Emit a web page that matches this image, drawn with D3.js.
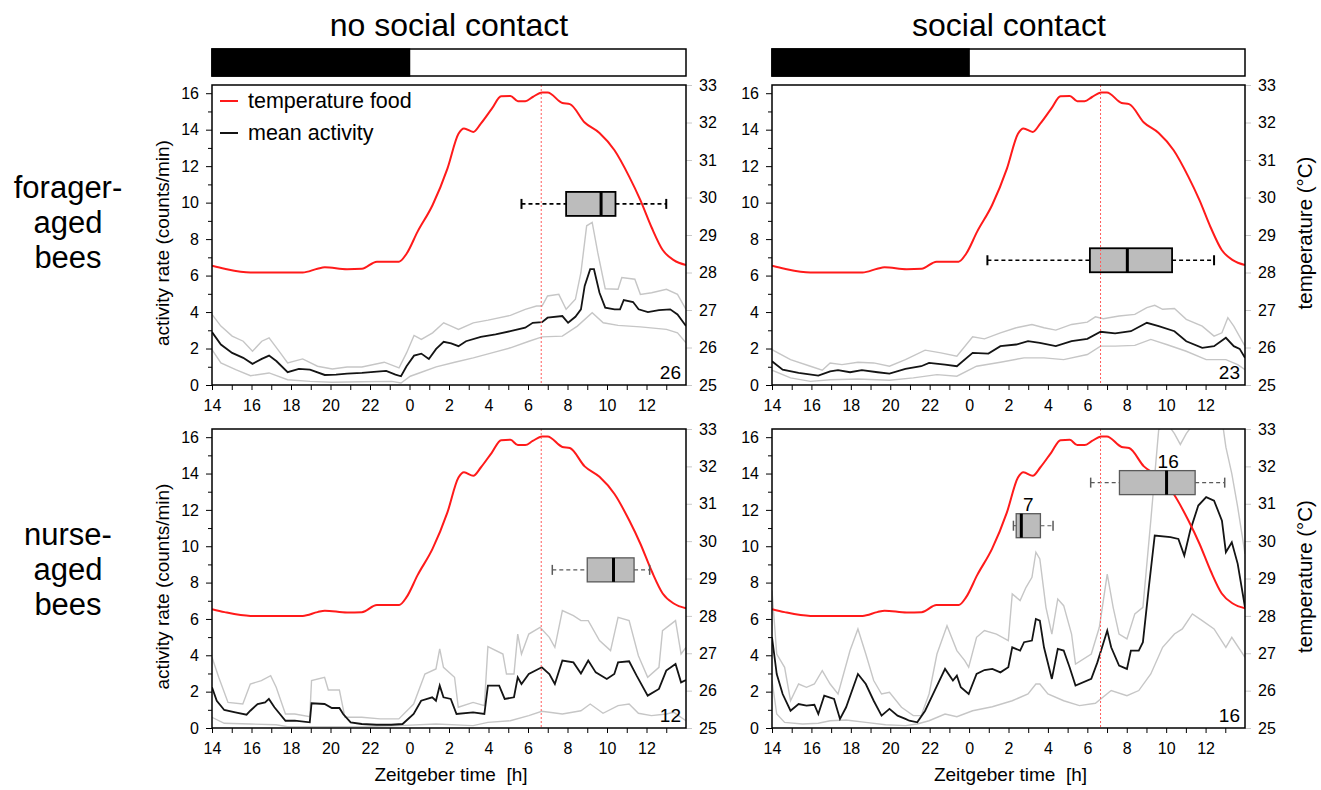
<!DOCTYPE html>
<html>
<head>
<meta charset="utf-8">
<script src="https://cdn.jsdelivr.net/npm/d3@7"></script>
<style>
body { margin: 0; background: #fff; }
text { font-family: "Liberation Sans", Arial, sans-serif; fill: #000; }
</style>
</head>
<body>
<script>
// time is stored as hours after ZT14 (0 .. 24), labels show Zeitgeber time
var hourTicks = d3.range(0, 24);
var activityTicks = [0, 2, 4, 6, 8, 10, 12, 14, 16];
var tempTicks = [25, 26, 27, 28, 29, 30, 31, 32, 33];
var colTitles = ["no social contact", "social contact"];
var rowTitles = [["forager-", "aged", "bees"], ["nurse-", "aged", "bees"]];
var sampleSizes = ["26", "23", "12", "16"];
var darkPhase = [0, 10];
var tempPeak = 16.67;

// temperature food (°C), same for every panel
var tempFood = [[0,28.18],[0.64,28.1],[1.95,28.0],[4.59,28.0],[5.34,28.1],[5.71,28.14],[6.84,28.09],
  [7.59,28.1],[8.35,28.29],[9.47,28.29],[9.85,28.5],[10.41,29.09],[11.17,29.8],[11.92,30.77],
  [12.48,31.7],[12.76,31.84],[13.23,31.75],[13.61,31.97],[14.17,32.37],[14.64,32.7],[15.11,32.71],
  [15.49,32.57],[15.86,32.57],[16.24,32.68],[16.71,32.8],[16.99,32.8],[17.74,32.52],[18.12,32.49],
  [18.87,32.0],[19.62,31.72],[20.38,31.26],[21.13,30.55],[21.69,29.93],[22.26,29.2],[22.82,28.6],
  [23.38,28.33],[24,28.2]];

// forager-aged, no social contact
var fnMean = [[0,2.9],[0.45,2.22],[1.02,1.76],[1.58,1.49],[2.05,1.16],[2.52,1.43],[2.89,1.61],[3.27,1.3],
  [3.83,0.7],[4.4,0.88],[4.96,0.84],[5.71,0.55],[6.28,0.57],[6.84,0.62],[7.59,0.66],[8.35,0.73],
  [8.82,0.77],[9.29,0.57],[9.57,0.48],[9.85,1.03],[10.23,1.61],[10.6,1.72],[10.98,1.43],[11.35,1.98],
  [11.73,2.37],[12.11,2.28],[12.48,2.13],[12.86,2.4],[13.61,2.64],[14.36,2.77],[15.11,2.95],[15.86,3.14],
  [16.24,3.41],[16.71,3.45],[16.99,3.69],[17.74,3.78],[18.03,3.41],[18.4,3.74],[18.68,4.15],[18.87,5.43],
  [19.15,6.35],[19.34,6.35],[19.62,5.06],[19.91,4.24],[20.38,4.15],[20.66,4.15],[20.85,4.66],[21.32,4.55],
  [21.6,4.15],[22.07,4.0],[22.63,4.11],[23.2,4.15],[23.57,3.87],[24,3.23]];
var fnUpper = [[0,3.87],[0.45,3.23],[1.02,2.68],[1.58,2.4],[2.05,1.85],[2.52,2.4],[2.89,2.59],[3.46,1.76],
  [3.83,1.21],[4.59,1.43],[5.34,1.03],[6.09,0.88],[6.84,0.99],[7.59,0.99],[8.72,1.25],[9.47,0.94],
  [9.85,1.76],[10.23,2.72],[10.6,2.5],[11.17,2.86],[11.73,3.41],[12.11,3.23],[12.48,3.05],[13.23,3.41],
  [13.98,3.56],[15.11,3.82],[15.86,4.15],[16.43,4.33],[16.71,4.33],[16.99,4.88],[17.56,4.97],[17.93,4.15],
  [18.4,4.7],[18.68,6.17],[18.97,8.73],[19.25,8.92],[19.53,7.27],[19.91,5.28],[20.56,5.25],[20.75,5.89],
  [21.41,5.8],[21.69,4.97],[22.26,5.06],[23.01,5.25],[23.57,4.97],[24,4.15]];
var fnLower = [[0,1.94],[0.45,1.21],[1.2,0.84],[1.95,0.51],[2.89,0.66],[3.83,0.29],[4.96,0.2],[6.09,0.15],
  [7.59,0.18],[9.1,0.2],[9.57,0.11],[10.04,0.48],[10.6,0.7],[11.35,0.99],[12.29,1.25],[13.23,1.49],
  [14.17,1.76],[15.11,2.04],[16.05,2.4],[16.71,2.64],[17.74,2.68],[18.5,3.23],[19.25,3.96],[19.81,3.41],
  [20.56,3.27],[21.69,3.19],[23.01,3.05],[23.57,2.86],[24,2.31]];

// forager-aged, social contact
var fsMean = [[0,1.3],[0.54,0.84],[1.35,0.66],[2.35,0.51],[2.95,0.75],[3.35,0.81],[3.96,0.7],[4.56,0.81],
  [5.36,0.7],[5.96,0.62],[6.77,0.88],[7.57,1.03],[7.97,1.21],[8.78,1.12],[9.38,1.03],[10.18,1.76],
  [10.98,1.72],[11.59,2.13],[12.39,2.22],[12.99,2.4],[13.59,2.31],[14.4,2.13],[15.2,2.4],[16.0,2.53],
  [16.67,2.92],[17.41,2.83],[18.21,2.95],[19.02,3.41],[19.62,3.23],[20.42,2.95],[21.02,2.4],[21.83,2.04],
  [22.43,2.13],[23.03,2.59],[23.43,2.13],[23.73,1.98],[24,1.49]];
var fsUpper = [[0,1.94],[0.94,1.39],[1.95,1.03],[2.55,0.81],[2.95,1.21],[3.55,1.12],[4.36,1.25],[5.16,1.21],
  [5.96,1.03],[6.77,1.39],[7.77,1.91],[8.57,1.76],[9.38,1.58],[10.18,2.64],[10.78,2.53],[11.59,2.86],
  [12.39,3.14],[13.19,3.32],[13.8,3.14],[14.4,3.01],[15.2,3.32],[16.0,3.45],[16.41,3.74],[16.81,3.63],
  [17.61,3.78],[18.41,3.87],[19.02,4.24],[19.42,4.37],[19.82,4.15],[20.42,4.19],[21.02,3.6],[21.83,3.23],
  [22.43,2.68],[22.83,2.86],[23.13,3.69],[23.43,3.23],[24,2.13]];
var fsLower = [[0,0.81],[0.94,0.39],[1.95,0.2],[2.95,0.29],[4.36,0.33],[5.96,0.26],[7.17,0.39],[8.37,0.57],
  [9.38,0.48],[10.38,1.03],[11.59,1.25],[12.79,1.49],[13.8,1.49],[14.8,1.39],[16.0,1.67],[16.67,2.13],
  [17.41,2.13],[18.41,2.17],[19.22,2.5],[20.02,2.22],[21.02,1.85],[22.03,1.39],[23.03,1.39],[23.63,1.12],
  [24,0.84]];

// nurse-aged, no social contact
var nnMean = [[0,2.24],[0.24,1.5],[0.62,0.99],[1.18,0.86],[1.75,0.73],[1.94,0.95],[2.31,1.32],[2.69,1.41],
  [2.88,1.6],[3.16,1.14],[3.72,0.4],[4.19,0.4],[4.95,0.31],[5.04,1.36],[5.7,1.32],[6.07,1.1],[6.45,1.1],
  [6.64,0.77],[7.02,0.31],[7.58,0.22],[8.33,0.18],[9.08,0.18],[9.65,0.22],[10.21,0.77],[10.59,1.5],
  [11.15,1.69],[11.34,1.5],[11.53,2.33],[11.72,1.69],[12.09,1.6],[12.38,0.77],[13.22,0.86],[13.79,0.77],
  [13.97,2.33],[14.54,2.33],[14.82,1.6],[15.29,1.69],[15.48,2.79],[15.67,2.42],[16.04,2.97],[16.7,3.34],
  [17.08,2.97],[17.36,2.42],[17.74,3.71],[18.3,3.61],[18.68,3.0],[19.05,3.71],[19.43,3.06],[19.99,2.7],
  [20.37,2.97],[20.56,3.61],[21.12,3.67],[21.5,2.88],[22.06,1.78],[22.63,2.15],[23.0,3.16],[23.47,3.52],
  [23.75,2.51],[24,2.64]];
var nnUpper = [[0,3.89],[0.34,2.79],[0.81,1.41],[1.56,1.32],[1.94,2.42],[2.5,2.61],[2.97,2.88],[3.25,2.24],
  [3.72,0.77],[4.19,0.77],[4.95,0.62],[5.04,2.61],[5.7,2.79],[5.89,2.09],[6.45,2.09],[6.73,0.59],
  [7.58,0.59],[8.52,0.5],[9.46,0.5],[10.21,1.32],[10.78,2.97],[11.34,3.25],[11.53,4.35],[11.72,3.34],
  [12.28,2.79],[12.47,1.14],[13.22,1.41],[13.79,1.23],[13.97,4.48],[14.73,4.07],[14.91,2.97],[15.29,2.97],
  [15.48,5.17],[15.67,4.07],[16.04,5.17],[16.61,5.54],[17.08,4.99],[17.36,4.44],[17.74,6.46],[18.3,6.18],
  [18.68,5.91],[19.05,5.91],[19.62,4.81],[20.18,4.26],[20.56,6.09],[21.12,5.91],[21.59,3.98],[22.06,2.79],
  [22.63,3.34],[22.81,5.36],[23.47,5.91],[23.75,4.07],[24,4.44]];
var nnLower = [[0,0.59],[0.62,0.26],[1.94,0.22],[3.25,0.18],[3.82,0.07],[5.7,0.07],[7.58,0.07],[9.46,0.13],
  [11.34,0.22],[13.22,0.13],[13.97,0.31],[15.1,0.4],[16.04,0.68],[16.7,0.92],[17.74,0.77],[18.68,0.95],
  [19.15,1.32],[19.8,0.81],[20.56,1.23],[21.12,1.32],[21.59,0.81],[22.25,0.68],[23.0,0.77],[23.38,0.86],
  [24,0.4]];

// nurse-aged, social contact
var nsMean = [[0,4.99],[0.24,2.97],[0.54,1.87],[0.94,0.95],[1.35,1.32],[1.75,1.23],[2.15,1.28],[2.35,0.77],
  [2.65,1.78],[3.15,1.6],[3.45,0.5],[3.76,1.14],[4.36,2.97],[4.76,2.42],[5.16,1.5],[5.56,0.68],[5.96,1.05],
  [6.37,0.68],[6.77,0.5],[6.97,0.4],[7.37,0.31],[7.77,0.95],[8.17,1.87],[8.78,3.25],[9.18,2.61],[9.38,2.88],
  [9.58,2.24],[9.98,1.87],[10.38,2.97],[10.78,3.19],[11.18,3.25],[11.59,3.06],[11.99,3.34],[12.19,4.44],
  [12.59,4.26],[12.79,4.72],[13.19,4.81],[13.39,6.0],[13.59,5.91],[13.8,4.44],[14.2,2.7],[14.5,4.35],
  [14.8,4.26],[15.1,3.34],[15.4,2.33],[16.2,2.7],[16.51,3.61],[17.01,5.36],[17.21,4.44],[17.61,3.43],
  [18.01,3.25],[18.21,4.26],[18.61,4.26],[18.82,4.72],[19.12,7.74],[19.42,10.59],[20.22,10.5],[20.62,10.4],
  [20.92,9.49],[21.22,10.86],[21.63,12.24],[22.03,12.7],[22.43,12.51],[22.83,11.41],[23.03,9.67],
  [23.33,10.22],[23.63,9.03],[24,6.64]];
var nsUpper = [[0,7.56],[0.24,4.07],[0.64,3.34],[0.94,1.5],[1.35,2.42],[1.75,2.24],[2.15,2.42],[2.55,3.16],
  [2.95,2.42],[3.35,1.87],[3.96,4.26],[4.36,5.45],[4.76,4.07],[5.16,2.61],[5.56,1.87],[5.96,1.96],
  [6.57,1.14],[7.17,0.68],[7.57,0.68],[7.97,1.87],[8.37,4.07],[8.88,5.63],[9.38,4.26],[9.78,3.71],
  [9.98,3.34],[10.38,4.99],[10.78,5.36],[11.39,5.17],[11.99,4.81],[12.19,7.38],[12.59,7.01],[12.89,7.74],
  [13.19,8.29],[13.39,9.67],[13.59,9.3],[13.9,6.64],[14.2,5.17],[14.5,7.1],[14.8,6.73],[15.2,5.17],
  [15.4,3.52],[16.2,4.07],[16.61,5.54],[17.01,8.47],[17.31,6.64],[17.61,5.17],[18.01,4.9],[18.41,6.28],
  [18.82,6.64],[19.22,11.41],[19.62,16.4],[20.02,16.8],[20.42,16.2],[20.72,15.6],[21.02,16.2],[21.43,16.8],
  [22.23,17],[22.83,17],[23.03,15.45],[23.33,14.0],[23.63,12.15],[24,9.58]];
var nsLower = [[0,2.61],[0.24,0.77],[0.64,0.31],[1.55,0.22],[2.35,0.26],[2.95,0.4],[3.76,0.44],[4.76,0.31],
  [5.76,0.18],[6.77,0.13],[7.37,0.22],[7.97,0.4],[8.78,0.77],[9.38,0.62],[10.18,0.95],[11.18,1.17],
  [12.19,1.5],[12.99,1.87],[13.39,2.42],[13.59,2.42],[14.0,1.87],[14.8,1.5],[15.6,1.23],[16.41,1.36],
  [17.21,2.06],[18.01,1.78],[18.61,2.06],[19.22,2.97],[19.82,4.44],[20.42,5.17],[20.82,5.45],[21.33,6.28],
  [21.83,5.91],[22.43,5.45],[23.03,4.44],[23.33,4.99],[24,3.89]];

// boxplots of activity peak time: [min, q1, median, q3, max], level on activity axis
var fnBox = [15.67, 17.93, 19.7, 20.43, 23.0], fnBoxLevel = 9.93;
var fsBox = [10.93, 16.13, 18.03, 20.3, 22.43], fsBoxLevel = 6.84;
var nnBox = [17.23, 19.0, 20.33, 21.37, 22.16], nnBoxLevel = 8.7;
var nsBoxA = [12.25, 12.39, 12.65, 13.62, 14.26], nsBoxALevel = 11.13;
var nsBoxB = [16.17, 17.63, 20.02, 21.47, 22.97], nsBoxBLevel = 13.5;
var nsBoxLabels = [["7", 13.0], ["16", 20.1]];

var width = 1321, height = 790;
var svg = d3.select("body").append("svg")
    .attr("width", width)
    .attr("height", height);

var panels = [
  {x0: 212, x1: 686, y0: 85, y1: 385, mean: fnMean, up: fnUpper, lo: fnLower, n: sampleSizes[0],
   boxes: [{s: fnBox, lvl: fnBoxLevel}], dark: true, leftTitle: true, rightTitle: false, legend: true, xTitle: false},
  {x0: 772, x1: 1245, y0: 85, y1: 385, mean: fsMean, up: fsUpper, lo: fsLower, n: sampleSizes[1],
   boxes: [{s: fsBox, lvl: fsBoxLevel}], dark: true, leftTitle: false, rightTitle: true, legend: false, xTitle: false},
  {x0: 212, x1: 686, y0: 429, y1: 728, mean: nnMean, up: nnUpper, lo: nnLower, n: sampleSizes[2],
   boxes: [{s: nnBox, lvl: nnBoxLevel}], dark: false, leftTitle: true, rightTitle: false, legend: false, xTitle: true},
  {x0: 772, x1: 1245, y0: 429, y1: 728, mean: nsMean, up: nsUpper, lo: nsLower, n: sampleSizes[3],
   boxes: [{s: nsBoxA, lvl: nsBoxALevel, label: nsBoxLabels[0]}, {s: nsBoxB, lvl: nsBoxBLevel, label: nsBoxLabels[1]}],
   dark: false, leftTitle: false, rightTitle: true, legend: false, xTitle: true}
];

function txt(g, x, y, s, size, anchor) {
  return g.append("text").attr("x", x).attr("y", y)
    .attr("font-size", size).attr("text-anchor", anchor || "start").text(s);
}

// column and row titles
txt(svg, 449, 36, colTitles[0], 32, "middle");
txt(svg, 1009, 36, colTitles[1], 32, "middle");
rowTitles.forEach(function(lines, r) {
  var cy = r === 0 ? 187 : 534;
  lines.forEach(function(l, i) {
    txt(svg, 68, cy + 11 + i * 35, l, 31, "middle");
  });
});

// light/dark bars above the top row
panels.filter(function(p) { return p.y0 < 200; }).forEach(function(p) {
  var x = d3.scaleLinear().domain([0, 24]).range([p.x0, p.x1]);
  svg.append("rect").attr("x", p.x0).attr("y", 49).attr("width", p.x1 - p.x0).attr("height", 27)
    .style("fill", "#fff").style("stroke", "#000").style("stroke-width", 1.5);
  svg.append("rect").attr("x", x(darkPhase[0])).attr("y", 49)
    .attr("width", x(darkPhase[1]) - x(darkPhase[0])).attr("height", 27)
    .style("fill", "#000").style("stroke", "#000").style("stroke-width", 1.5);
});

panels.forEach(function(p, pi) {
  var g = svg.append("g");
  var x = d3.scaleLinear().domain([0, 24]).range([p.x0, p.x1]);
  var yA = d3.scaleLinear().domain([0, 16.45]).range([p.y1, p.y0]);
  var yT = d3.scaleLinear().domain([25, 33]).range([p.y1, p.y0]);

  var clipId = "clip" + pi;
  svg.append("clipPath").attr("id", clipId).append("rect")
    .attr("x", p.x0).attr("y", p.y0).attr("width", p.x1 - p.x0).attr("height", p.y1 - p.y0);

  // bottom axis, tick every hour, label every 2 h
  var xAxis = d3.axisBottom(x).tickValues(hourTicks).tickSize(5).tickSizeOuter(0)
    .tickFormat(function(h) { return h % 2 === 0 ? String((14 + h) % 24) : ""; });
  var gx = g.append("g").attr("transform", "translate(0," + p.y1 + ")").call(xAxis);
  gx.select(".domain").remove();
  gx.selectAll("text").attr("font-size", 16).attr("dy", "1.15em")
    .style("font-family", '"Liberation Sans", Arial, sans-serif');

  // left activity axis with minor ticks
  var gl = g.append("g").attr("transform", "translate(" + p.x0 + ",0)")
    .call(d3.axisLeft(yA).tickValues(d3.range(0, 17)).tickSize(6).tickSizeOuter(0)
      .tickFormat(function(v) { return v % 2 === 0 ? v : ""; }));
  gl.select(".domain").remove();
  gl.selectAll(".tick").filter(function(v) { return v % 2 === 1; }).select("line").attr("x2", -4);
  gl.selectAll("text").attr("font-size", 16).attr("dx", "-0.25em")
    .style("font-family", '"Liberation Sans", Arial, sans-serif');

  // right temperature axis, grey ticks
  var gr = g.append("g").attr("transform", "translate(" + p.x1 + ",0)")
    .call(d3.axisRight(yT).tickValues(tempTicks).tickSize(6).tickSizeOuter(0));
  gr.select(".domain").remove();
  gr.selectAll("line").style("stroke", "#c8c8c8");
  gr.selectAll("text").attr("font-size", 16).attr("dx", "0.25em")
    .style("font-family", '"Liberation Sans", Arial, sans-serif');

  var plot = g.append("g").attr("clip-path", "url(#" + clipId + ")");
  var line = d3.line().x(function(d) { return x(d[0]); }).y(function(d) { return yA(d[1]); });
  var tline = d3.line().x(function(d) { return x(d[0]); }).y(function(d) { return yT(d[1]); })
    .curve(d3.curveMonotoneX);

  plot.append("path").datum(p.up).attr("d", line)
    .style("fill", "none").style("stroke", "#c6c6c6").style("stroke-width", 1.4);
  plot.append("path").datum(p.lo).attr("d", line)
    .style("fill", "none").style("stroke", "#c6c6c6").style("stroke-width", 1.4);
  plot.append("path").datum(p.mean).attr("d", line)
    .style("fill", "none").style("stroke", "#141414").style("stroke-width", 1.8);
  plot.append("path").datum(tempFood).attr("d", tline)
    .style("fill", "none").style("stroke", "#ff1a1a").style("stroke-width", 2);

  // boxplots
  p.boxes.forEach(function(b) {
    var s = b.s, cy = yA(b.lvl), hh = 12;
    var col = p.dark ? "#000" : "#5a5a5a";
    var sw = p.dark ? 1.6 : 1.1;
    plot.append("line").attr("x1", x(s[0])).attr("x2", x(s[1])).attr("y1", cy).attr("y2", cy)
      .style("stroke", col).style("stroke-width", sw).style("stroke-dasharray", "4,3");
    plot.append("line").attr("x1", x(s[3])).attr("x2", x(s[4])).attr("y1", cy).attr("y2", cy)
      .style("stroke", col).style("stroke-width", sw).style("stroke-dasharray", "4,3");
    [s[0], s[4]].forEach(function(v) {
      plot.append("line").attr("x1", x(v)).attr("x2", x(v)).attr("y1", cy - 5).attr("y2", cy + 5)
        .style("stroke", col).style("stroke-width", sw + 0.4);
    });
    plot.append("rect").attr("x", x(s[1])).attr("y", cy - hh)
      .attr("width", x(s[3]) - x(s[1])).attr("height", 2 * hh)
      .style("fill", "#bcbcbc").style("stroke", col).style("stroke-width", sw + 0.2);
    plot.append("line").attr("x1", x(s[2])).attr("x2", x(s[2])).attr("y1", cy - hh).attr("y2", cy + hh)
      .style("stroke", "#000").style("stroke-width", 3);
    if (b.label) {
      txt(g, x(b.label[1]), cy - hh - 3, b.label[0], 19, "middle");
    }
  });

  // time of temperature maximum
  plot.append("line").attr("x1", x(tempPeak)).attr("x2", x(tempPeak)).attr("y1", p.y0).attr("y2", p.y1)
    .style("stroke", "#ff5a5a").style("stroke-width", 1).style("stroke-dasharray", "2,2");

  // frame
  g.append("rect").attr("x", p.x0).attr("y", p.y0).attr("width", p.x1 - p.x0).attr("height", p.y1 - p.y0)
    .style("fill", "none").style("stroke", "#000").style("stroke-width", 1.5);

  txt(g, p.x1 - 5, p.y1 - 6, p.n, 19, "end");

  if (p.leftTitle) {
    txt(g, 0, 0, "activity rate (counts/min)", 19, "middle")
      .attr("transform", "translate(169," + ((p.y0 + p.y1) / 2 + 8) + ") rotate(-90)");
  }
  if (p.rightTitle) {
    txt(g, 0, 0, "temperature (°C)", 20.5, "middle")
      .attr("transform", "translate(1312," + ((p.y0 + p.y1) / 2 - 2) + ") rotate(-90)");
  }
  if (p.xTitle) {
    txt(g, (p.x0 + p.x1) / 2 + 2, 781, "Zeitgeber time  [h]", 19, "middle")
      .attr("xml:space", "preserve").style("white-space", "pre");
  }
  if (p.legend) {
    var lg = g.append("g");
    lg.append("line").attr("x1", 220).attr("x2", 238).attr("y1", 101).attr("y2", 101)
      .style("stroke", "#ff1a1a").style("stroke-width", 2);
    txt(lg, 248, 108, "temperature food", 21.5);
    lg.append("line").attr("x1", 220).attr("x2", 238).attr("y1", 133).attr("y2", 133)
      .style("stroke", "#141414").style("stroke-width", 2);
    txt(lg, 248, 140, "mean activity", 21.5);
  }
});
</script>
</body>
</html>
